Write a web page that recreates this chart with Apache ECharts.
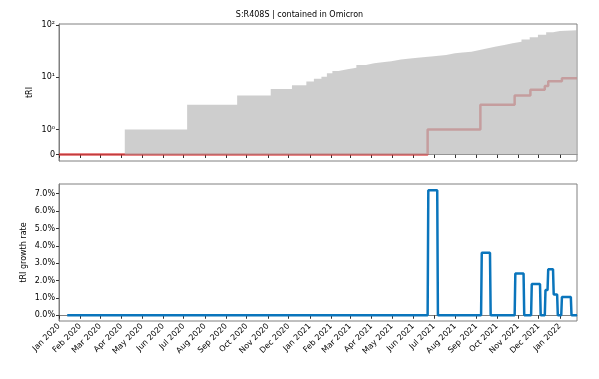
<!DOCTYPE html>
<html>
<head>
<meta charset="utf-8">
<script src="https://cdn.jsdelivr.net/npm/echarts@6/dist/echarts.min.js"></script>
<style>
  html, body { margin: 0; padding: 0; background: #fff; }
  #chart { width: 599px; height: 379px; }
</style>
</head>
<body>
<div id="chart"></div>
<script>
// month ticks shared by both panels
const monthTicks = [
    '2020-01-01', '2020-02-01', '2020-03-01', '2020-04-01', '2020-05-01', '2020-06-01',
    '2020-07-01', '2020-08-01', '2020-09-01', '2020-10-01', '2020-11-01', '2020-12-01',
    '2021-01-01', '2021-02-01', '2021-03-01', '2021-04-01', '2021-05-01', '2021-06-01',
    '2021-07-01', '2021-08-01', '2021-09-01', '2021-10-01', '2021-11-01', '2021-12-01',
    '2022-01-01'
];
const monthNames = ['Jan', 'Feb', 'Mar', 'Apr', 'May', 'Jun', 'Jul', 'Aug', 'Sep', 'Oct', 'Nov', 'Dec'];

// top panel: grey envelope (step)
const envDates = [
    '2020-01-01', '2020-04-06', '2020-07-06', '2020-09-17', '2020-11-05', '2020-12-06',
    '2020-12-27', '2021-01-07', '2021-01-18', '2021-01-26', '2021-02-03', '2021-02-12',
    '2021-02-25', '2021-03-10', '2021-03-24', '2021-04-05', '2021-04-17', '2021-04-30',
    '2021-05-14', '2021-05-31', '2021-06-15', '2021-07-01', '2021-07-19', '2021-08-01',
    '2021-08-12', '2021-08-25', '2021-09-06', '2021-09-18', '2021-09-30', '2021-10-12',
    '2021-10-24', '2021-11-06', '2021-11-18', '2021-11-30', '2021-12-12', '2021-12-22',
    '2022-01-01', '2022-01-26'
];
const envValues = [
    0, 1, 3, 4.5, 6, 7.1,
    8.3, 9.4, 10.3, 12, 13.3, 14.3,
    15.4, 17.2, 18.6, 19.6, 20.5, 22,
    23.2, 24.3, 25.5, 27, 29, 30,
    31.2, 33.5, 36.2, 39, 41.9, 45,
    48.4, 53.5, 58.9, 66, 73.4, 77.6,
    80, 80
];

// top panel: tRI of the mutation (step)
const triDates = ['2020-01-01', '2021-06-22', '2021-09-07', '2021-10-27', '2021-11-19', '2021-12-10', '2021-12-15', '2022-01-04', '2022-01-26'];
const triValues = [0, 1, 3, 4.5, 5.8, 6.8, 8.4, 9.6, 9.6];

// bottom panel: growth rate (%)
const growthDates = [
    '2020-01-13',
    '2021-06-22', '2021-06-23', '2021-07-06', '2021-07-07',
    '2021-09-08', '2021-09-09', '2021-09-21', '2021-09-22',
    '2021-10-27', '2021-10-28', '2021-11-09', '2021-11-10',
    '2021-11-20', '2021-11-21', '2021-12-03', '2021-12-04',
    '2021-12-10', '2021-12-11', '2021-12-14', '2021-12-15', '2021-12-22', '2021-12-23', '2021-12-28', '2021-12-29',
    '2022-01-03', '2022-01-04', '2022-01-17', '2022-01-18',
    '2022-01-26'
];
const growthValues = [
    0,
    0, 7.2, 7.2, 0,
    0, 3.6, 3.6, 0,
    0, 2.4, 2.4, 0,
    0, 1.8, 1.8, 0,
    0, 1.45, 1.45, 2.65, 2.65, 1.2, 1.2, 0,
    0, 1.05, 1.05, 0,
    0
];

const topTickValues = [0, 1, 10, 100];
const topTickLabels = ['0', '10⁰', '10¹', '10²'];
const growthTicks = [0, 1, 2, 3, 4, 5, 6, 7];

// symlog-like transform (linear below 1, log above)
const LIN = 0.48;
const sym = v => (v <= 1 ? v * LIN : LIN + Math.log10(v));

const ts = s => {
    const p = s.split('-').map(Number);
    return Date.UTC(p[0], p[1] - 1, p[2]);
};
const tickTs = monthTicks.map(ts);
const xMin = ts('2020-01-01');
const xMax = ts('2022-01-26');

const font = 'DejaVu Sans';
const spine = '#808080';
const fs = 8;

const monthLabel = v => {
    const d = new Date(v);
    return monthNames[d.getUTCMonth()] + ' ' + d.getUTCFullYear();
};

const myChart = echarts.init(document.getElementById('chart'), null, { renderer: 'canvas' });

const xAxisBase = (idx, showLabel) => ({
    type: 'value',
    gridIndex: idx,
    min: xMin,
    max: xMax,
    axisLine: { show: true, lineStyle: { color: spine, width: 1 } },
    axisTick: { show: true, length: 3.5, lineStyle: { color: '#333' }, customValues: tickTs },
    axisLabel: {
        show: showLabel,
        customValues: tickTs,
        formatter: monthLabel,
        rotate: 45,
        fontSize: fs,
        fontFamily: font,
        color: '#000',
        margin: 4,
        hideOverlap: false
    },
    splitLine: { show: false }
});

const option = {
    animation: false,
    backgroundColor: '#fff',
    title: {
        text: 'S:R408S | contained in Omicron',
        left: 'center',
        top: 6,
        textStyle: { fontSize: fs, fontWeight: 'normal', fontFamily: font, color: '#000' }
    },
    grid: [
        { left: 59, right: 22, top: 24, height: 137, show: true, borderColor: spine, borderWidth: 1, backgroundColor: 'transparent' },
        { left: 59, right: 22, top: 184, height: 137, show: true, borderColor: spine, borderWidth: 1, backgroundColor: 'transparent' }
    ],
    xAxis: [xAxisBase(0, false), xAxisBase(1, true)],
    yAxis: [
        {
            type: 'value',
            gridIndex: 0,
            min: -0.125,
            max: 2.505,
            name: 'tRI',
            nameLocation: 'middle',
            nameRotate: 90,
            nameGap: 25,
            nameMoveOverlap: false,
            nameTextStyle: { fontSize: fs, fontFamily: font, color: '#000' },
            axisLine: { show: true, lineStyle: { color: spine } },
            axisTick: { show: true, length: 3, lineStyle: { color: '#333' }, customValues: topTickValues.map(sym) },
            axisLabel: {
                customValues: topTickValues.map(sym),
                formatter: v => {
                    const i = topTickValues.findIndex(t => Math.abs(sym(t) - v) < 1e-6);
                    return i >= 0 ? topTickLabels[i] : '';
                },
                fontSize: fs,
                fontFamily: font,
                color: '#000',
                margin: 4
            },
            splitLine: { show: false }
        },
        {
            type: 'value',
            gridIndex: 1,
            min: -0.33,
            max: 7.56,
            name: 'tRI growth rate',
            nameLocation: 'middle',
            nameRotate: 90,
            nameGap: 31,
            nameMoveOverlap: false,
            nameTextStyle: { fontSize: fs, fontFamily: font, color: '#000' },
            axisLine: { show: true, lineStyle: { color: spine } },
            axisTick: { show: true, length: 3, lineStyle: { color: '#333' }, customValues: growthTicks },
            axisLabel: {
                customValues: growthTicks,
                formatter: v => v.toFixed(1) + '%',
                fontSize: fs,
                fontFamily: font,
                color: '#000',
                margin: 4
            },
            splitLine: { show: false }
        }
    ],
    series: [
        {
            name: 'tRI',
            type: 'line',
            xAxisIndex: 0,
            yAxisIndex: 0,
            step: 'end',
            symbol: 'none',
            z: 2,
            lineStyle: { color: 'rgba(214,39,40,0.75)', width: 2.5 },
            data: triDates.map((d, i) => [ts(d), sym(triValues[i])])
        },
        {
            name: 'envelope',
            type: 'line',
            xAxisIndex: 0,
            yAxisIndex: 0,
            step: 'end',
            symbol: 'none',
            z: 3,
            lineStyle: { width: 0 },
            areaStyle: { color: 'rgba(185,185,185,0.7)', opacity: 1 },
            data: envDates.map((d, i) => [ts(d), sym(envValues[i])])
        },
        {
            name: 'growth',
            type: 'line',
            xAxisIndex: 1,
            yAxisIndex: 1,
            symbol: 'none',
            lineStyle: { color: '#0a75bc', width: 2.5 },
            data: growthDates.map((d, i) => [ts(d), growthValues[i]])
        }
    ]
};

myChart.setOption(option);
window.addEventListener('resize', () => {
    myChart.resize();
});
</script>
</body>
</html>
